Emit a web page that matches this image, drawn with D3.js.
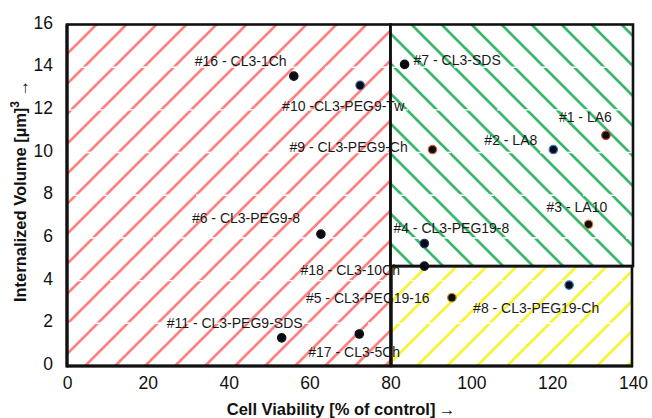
<!DOCTYPE html>
<html><head><meta charset="utf-8">
<script src="https://cdn.jsdelivr.net/npm/d3@7"></script>
<style>
html,body{margin:0;padding:0;background:#fff;}
svg{display:block;font-family:"Liberation Sans",Arial,sans-serif;}
</style></head>
<body><svg id="chart" width="652" height="418"></svg>
<script>
// ---- data ----
const labels = ["#16 - CL3-1Ch","#10 -CL3-PEG9-Tw","#7 - CL3-SDS","#9 - CL3-PEG9-Ch","#2 - LA8","#1 - LA6","#3 - LA10",
  "#6 - CL3-PEG9-8","#4 - CL3-PEG19-8","#18 - CL3-10Ch","#5 - CL3-PEG19-16","#8 - CL3-PEG19-Ch","#11 - CL3-PEG9-SDS","#17 - CL3-5Ch"];
const viability = [56.1, 72.5, 83.5, 90.4, 120.3, 133.3, 129.0, 62.8, 88.4, 88.4, 95.2, 124.2, 53.1, 72.3];
const volume    = [13.58, 13.15, 14.13, 10.14, 10.14, 10.81, 6.64, 6.18, 5.74, 4.68, 3.20, 3.79, 1.32, 1.50];
const xTicks = [0, 20, 40, 60, 80, 100, 120, 140];
const yTicks = [0, 2, 4, 6, 8, 10, 12, 14, 16];
const viabilityThreshold = 80;
const volumeThreshold = 4.68;

// ---- layout / style (not data) ----
const labelDx = [-99, -78, 9, -143, -69, -47, -42, -129, -31, -124, -146, -96, -115, -51];
const labelDy = [-15, 21, -4, -3, -10, -18, -17, -16, -15, 4, 0, 23, -15, 18];
const markerEdge = ["#111","#2a5d8f","#111","#d2691e","#2e7bbf","#c0392b","#e07b24","#111","#1f3a6b","#111","#b08c00","#2e7bbf","#111","#111"];

const svg = d3.select("#chart");
const x = d3.scaleLinear().domain([0, 140]).range([67, 633]);
const y = d3.scaleLinear().domain([0, 16]).range([366, 24.5]);

// hatch patterns
const defs = svg.append("defs");
function hatch(id, color, dir, period, offset, width) {
  const p = defs.append("pattern").attr("id", id).attr("patternUnits", "userSpaceOnUse")
    .attr("width", period).attr("height", period).attr("x", offset).attr("y", 0);
  const P = period;
  const d = dir === "/"
    ? `M${-P},${P} L${P},${-P} M0,${P} L${P},0 M0,${2*P} L${2*P},0`
    : `M${-P},0 L${P},${2*P} M0,0 L${P},${P} M0,${-P} L${2*P},${P}`;
  p.append("path").attr("d", d).attr("stroke", color).attr("stroke-width", width).attr("fill", "none");
}
hatch("hRed", "#ff8282", "/", 30, 1, 2.7);
hatch("hGreen", "#38b86a", "\\", 30, 27, 2.7);
hatch("hYellow", "#f7f532", "/", 30, 3, 2.7);

// regions
svg.append("rect").attr("x", x(0)).attr("y", y(16)).attr("width", x(viabilityThreshold) - x(0))
  .attr("height", y(0) - y(16)).attr("fill", "url(#hRed)");
svg.append("rect").attr("x", x(viabilityThreshold)).attr("y", y(16)).attr("width", x(140) - x(viabilityThreshold))
  .attr("height", y(volumeThreshold) - y(16)).attr("fill", "url(#hGreen)");
svg.append("rect").attr("x", x(viabilityThreshold)).attr("y", y(volumeThreshold)).attr("width", x(140) - x(viabilityThreshold))
  .attr("height", y(0) - y(volumeThreshold)).attr("fill", "url(#hYellow)");

// gridlines (white, over hatch)
svg.append("g").selectAll("line").data(yTicks.filter(t => t > 0 && t < 16)).join("line")
  .attr("x1", x(0)).attr("x2", x(140)).attr("y1", d => y(d)).attr("y2", d => y(d))
  .attr("stroke", "#fff").attr("stroke-width", 1.4).attr("stroke-dasharray", "40,3");

// borders
const border = svg.append("g").attr("fill", "none").attr("stroke", "#111").attr("stroke-width", 2.6);
border.append("rect").attr("x", x(0)).attr("y", y(16)).attr("width", x(viabilityThreshold) - x(0)).attr("height", y(0) - y(16));
border.append("rect").attr("x", x(viabilityThreshold)).attr("y", y(16)).attr("width", x(140) - x(viabilityThreshold)).attr("height", y(volumeThreshold) - y(16));
border.append("rect").attr("x", x(viabilityThreshold) + 1).attr("y", y(volumeThreshold)).attr("width", x(140) - x(viabilityThreshold) - 2).attr("height", y(0) - y(volumeThreshold));
border.append("line").attr("x1", x(0)).attr("x2", x(0)).attr("y1", y(16)).attr("y2", y(0) + 1.5).attr("stroke-width", 3.2);
border.append("line").attr("x1", x(0)).attr("x2", x(140)).attr("y1", y(0)).attr("y2", y(0)).attr("stroke-width", 3.2);

// axes
const xAxis = svg.append("g").attr("transform", `translate(0,${y(0)})`)
  .call(d3.axisBottom(x).tickValues(xTicks).tickSize(0).tickPadding(11).tickFormat(d3.format("d")));
xAxis.select(".domain").remove();
xAxis.selectAll("text").attr("font-size", 17.5).attr("fill", "#111").style("font-family", "Liberation Sans, Arial, sans-serif");

const yAxis = svg.append("g").attr("transform", `translate(${x(0)},0)`)
  .call(d3.axisLeft(y).tickValues(yTicks).tickSize(0).tickPadding(14).tickFormat(d3.format("d")));
yAxis.select(".domain").remove();
yAxis.selectAll("text").attr("font-size", 17.5).attr("fill", "#111").attr("dy", "0.2em")
  .style("font-family", "Liberation Sans, Arial, sans-serif");

// points
const pts = labels.map((l, i) => ({label: l, vx: viability[i], vy: volume[i], i}));
svg.append("g").selectAll("circle").data(pts).join("circle")
  .attr("cx", d => x(d.vx)).attr("cy", d => y(d.vy)).attr("r", 4.2)
  .attr("fill", "#0a0a14").attr("stroke", d => markerEdge[d.i]).attr("stroke-width", 1.2);

// labels
svg.append("g").selectAll("text").data(pts).join("text")
  .attr("x", d => x(d.vx) + labelDx[d.i]).attr("y", d => y(d.vy) + labelDy[d.i])
  .attr("dominant-baseline", "central").attr("font-size", 14).attr("fill", "#1a1a1a")
  .text(d => d.label);

// axis titles
svg.append("text").attr("x", 341).attr("y", 409).attr("text-anchor", "middle").attr("dominant-baseline", "central")
  .attr("font-size", 16.5).attr("font-weight", "bold").attr("fill", "#111")
  .text("Cell Viability [% of control]\u2009\u2192");
const yt = svg.append("text").attr("transform", "translate(20,191) rotate(-90)").attr("text-anchor", "middle")
  .attr("dominant-baseline", "central").attr("font-size", 16.5).attr("font-weight", "bold").attr("fill", "#111");
yt.append("tspan").text("Internalized Volume [\u00b5m]");
yt.append("tspan").attr("dy", "-0.4em").attr("font-size", 12).text("3");
yt.append("tspan").attr("dy", "0.4em").text(" \u2192");
</script></body></html>
